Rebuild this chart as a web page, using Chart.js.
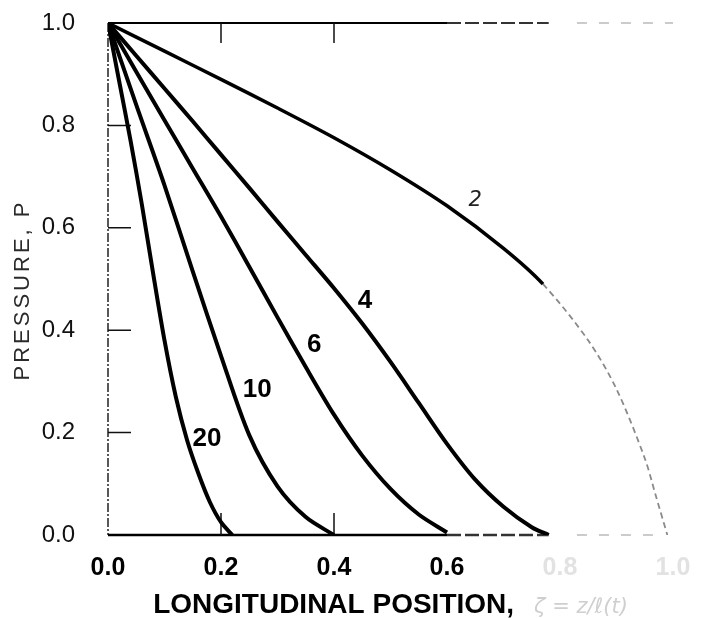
<!DOCTYPE html>
<html>
<head>
<meta charset="utf-8">
<script src="https://cdn.jsdelivr.net/npm/chart.js@4.4.1/dist/chart.umd.min.js"></script>
<style>
    html, body { margin: 0; padding: 0; background: #fff; }
    #wrap { width: 708px; height: 618px; }
</style>
</head>
<body>
<div id="wrap"><canvas id="chart" width="708" height="618"></canvas></div>
<script>
// tick labels
const xTickLabels = ['0.0', '0.2', '0.4', '0.6', '0.8', '1.0'];
const yTickLabels = ['0.0', '0.2', '0.4', '0.6', '0.8', '1.0'];

// curves (x = longitudinal position, p = pressure)
const curveNames = ['2', '4', '6', '10', '20'];
const x2 = [0, 0.1, 0.2, 0.3, 0.4, 0.5, 0.6, 0.7, 0.77, 0.85, 0.9, 0.95, 0.97, 0.99];
const p2 = [1, 0.945, 0.89, 0.834, 0.776, 0.713, 0.643, 0.56, 0.49, 0.38, 0.285, 0.15, 0.075, 0.0];
const x4 = [0, 0.05, 0.1, 0.15, 0.2, 0.25, 0.3, 0.35, 0.4, 0.45, 0.5, 0.55, 0.6, 0.65, 0.7, 0.75, 0.78];
const p4 = [1, 0.936, 0.872, 0.808, 0.743, 0.678, 0.612, 0.547, 0.482, 0.413, 0.338, 0.258, 0.178, 0.108, 0.055, 0.015, 0.0];
const x6 = [0, 0.05, 0.1, 0.15, 0.2, 0.25, 0.3, 0.35, 0.4, 0.45, 0.5, 0.55, 0.6];
const p6 = [1, 0.905, 0.81, 0.716, 0.622, 0.524, 0.425, 0.328, 0.235, 0.155, 0.09, 0.04, 0.005];
const x10 = [0, 0.05, 0.1, 0.15, 0.2, 0.25, 0.3, 0.35, 0.4];
const p10 = [1, 0.84, 0.683, 0.515, 0.35, 0.195, 0.095, 0.035, 0.0];
const x20 = [0, 0.02, 0.04, 0.06, 0.08, 0.1, 0.12, 0.14, 0.16, 0.18, 0.2, 0.22];
const p20 = [1, 0.885, 0.77, 0.645, 0.51, 0.38, 0.27, 0.185, 0.12, 0.065, 0.025, 0.0];

// where each curve's number sits (data coords)
const labelX = [0.65, 0.455, 0.365, 0.264, 0.175];
const labelY = [0.654, 0.457, 0.371, 0.283, 0.188];

const curveXs = [x2, x4, x6, x10, x20];
const curvePs = [p2, p4, p6, p10, p20];

// the scan fades out on the right
const FADE_FROM = 0.77;

function pairs(xs, ps) {
    return xs.map(function (v, i) {
        return { x: v, y: ps[i] };
    });
}

const paperPlugin = {
    id: 'paper',
    beforeDatasetsDraw: function (chart) {
        const ctx = chart.ctx;
        const xs = chart.scales.x;
        const ys = chart.scales.y;
        const L = xs.getPixelForValue(0);
        const R = xs.getPixelForValue(1);
        const T = ys.getPixelForValue(1);
        const B = ys.getPixelForValue(0);
        const mid = xs.getPixelForValue(0.6);
        const fade = xs.getPixelForValue(0.78);
        const far = xs.getPixelForValue(0.83);

        ctx.save();
        ctx.lineCap = 'butt';

        // left axis, broken up like the scan
        ctx.strokeStyle = '#222';
        ctx.lineWidth = 1.5;
        ctx.setLineDash([9, 2, 2, 2]);
        ctx.beginPath();
        ctx.moveTo(L, T);
        ctx.lineTo(L, B);
        ctx.stroke();

        [T, B].forEach(function (y, k) {
            ctx.strokeStyle = '#000';
            ctx.lineWidth = k === 0 ? 2 : 2.5;
            ctx.setLineDash([]);
            ctx.beginPath();
            ctx.moveTo(L, y);
            ctx.lineTo(mid, y);
            ctx.stroke();
            ctx.strokeStyle = '#333';
            ctx.setLineDash([14, 4]);
            ctx.beginPath();
            ctx.moveTo(mid, y);
            ctx.lineTo(fade, y);
            ctx.stroke();
            ctx.strokeStyle = '#bbb';
            ctx.lineWidth = 1.5;
            ctx.setLineDash([10, 12]);
            ctx.beginPath();
            ctx.moveTo(far, y);
            ctx.lineTo(k === 0 ? R : xs.getPixelForValue(0.97), y);
            ctx.stroke();
        });

        // inward tick marks
        ctx.setLineDash([]);
        ctx.strokeStyle = '#111';
        ctx.lineWidth = 1.5;
        ctx.beginPath();
        [0.2, 0.4, 0.6, 0.8].forEach(function (v) {
            const y = ys.getPixelForValue(v);
            ctx.moveTo(L, y);
            ctx.lineTo(L + 23, y);
        });
        [0.2, 0.4].forEach(function (v) {
            const x = xs.getPixelForValue(v);
            ctx.moveTo(x, T);
            ctx.lineTo(x, T + 20);
            ctx.moveTo(x, B);
            ctx.lineTo(x, B - 22);
        });
        ctx.stroke();
        ctx.restore();
    },
    afterDatasetsDraw: function (chart) {
        const ctx = chart.ctx;
        const xs = chart.scales.x;
        const ys = chart.scales.y;
        const area = chart.chartArea;

        ctx.save();
        ctx.textAlign = 'center';
        ctx.textBaseline = 'middle';
        curveNames.forEach(function (name, i) {
            if (i === 0) {
                ctx.font = 'italic 21px "DejaVu Sans"';
                ctx.fillStyle = '#222';
            } else {
                ctx.font = 'bold 26px "Liberation Sans", Arial, sans-serif';
                ctx.fillStyle = '#000';
            }
            ctx.fillText(name, xs.getPixelForValue(labelX[i]), ys.getPixelForValue(labelY[i]));
        });

        // x title: bold part, then the faded remainder of the scan
        const t1 = 'LONGITUDINAL POSITION,';
        const t2 = '   \u03b6 = z/\u2113(t)';
        ctx.textAlign = 'left';
        ctx.textBaseline = 'alphabetic';
        ctx.font = 'bold 28px "Liberation Sans", Arial, sans-serif';
        const w1 = ctx.measureText(t1).width;
        ctx.font = 'italic 21px "DejaVu Sans"';
        const w2 = ctx.measureText(t2).width;
        const x0 = (area.left + area.right) / 2 - (w1 + w2) / 2;
        ctx.font = 'bold 28px "Liberation Sans", Arial, sans-serif';
        ctx.fillStyle = '#000';
        ctx.fillText(t1, x0, 613);
        ctx.font = 'italic 21px "DejaVu Sans"';
        ctx.fillStyle = '#cfcfcf';
        ctx.fillText(t2, x0 + w1, 613);

        // y title
        ctx.translate(29, (area.top + area.bottom) / 2 + 11);
        ctx.rotate(-Math.PI / 2);
        ctx.textAlign = 'center';
        ctx.font = '22px "Liberation Sans", Arial, sans-serif';
        ctx.letterSpacing = '3px';
        ctx.fillStyle = '#2a2a2a';
        ctx.fillText('PRESSURE, P', 0, 0);
        ctx.restore();
    },
};

const datasets = curveNames.map(function (name, i) {
    return {
        label: name,
        data: pairs(curveXs[i], curvePs[i]),
        borderColor: '#000',
        borderWidth: i === 0 ? 3.5 : 4,
        pointRadius: 0,
        fill: false,
        tension: 0.3,
        segment: i === 0 ? {
            borderColor: function (c) { return c.p0.parsed.x >= FADE_FROM ? '#8a8a8a' : undefined; },
            borderDash: function (c) { return c.p0.parsed.x >= FADE_FROM ? [6, 4] : undefined; },
            borderWidth: function (c) { return c.p0.parsed.x >= FADE_FROM ? 1.8 : undefined; },
        } : undefined,
    };
});

new Chart(document.getElementById('chart').getContext('2d'), {
    type: 'line',
    data: { datasets: datasets },
    options: {
        responsive: false,
        animation: false,
        devicePixelRatio: 1,
        layout: { padding: { left: 0, top: 23, right: 35, bottom: 0 } },
        plugins: {
            legend: { display: false },
            tooltip: { enabled: false },
        },
        scales: {
            x: {
                type: 'linear',
                min: 0,
                max: 1,
                grid: { display: false },
                border: { display: false },
                ticks: {
                    stepSize: 0.2,
                    padding: 10,
                    maxRotation: 0,
                    font: { family: '"Liberation Sans", Arial, sans-serif', size: 25, weight: 'bold' },
                    color: function (c) { return c.index > 3 ? '#e2e2e2' : '#000'; },
                    callback: function (val, index) { return xTickLabels[index]; },
                },
                afterFit: function (scale) { scale.height = 83; },
            },
            y: {
                min: 0,
                max: 1,
                grid: { display: false },
                border: { display: false },
                ticks: {
                    stepSize: 0.2,
                    padding: 25,
                    font: { family: '"Liberation Sans", Arial, sans-serif', size: 24 },
                    color: '#111',
                    callback: function (val, index) { return yTickLabels[index]; },
                },
                afterFit: function (scale) {
                    // the label overhang is already covered by layout padding
                    scale.width = 108;
                    scale.paddingTop = 0;
                    scale.paddingBottom = 0;
                },
            },
        },
    },
    plugins: [paperPlugin],
});
</script>
</body>
</html>
